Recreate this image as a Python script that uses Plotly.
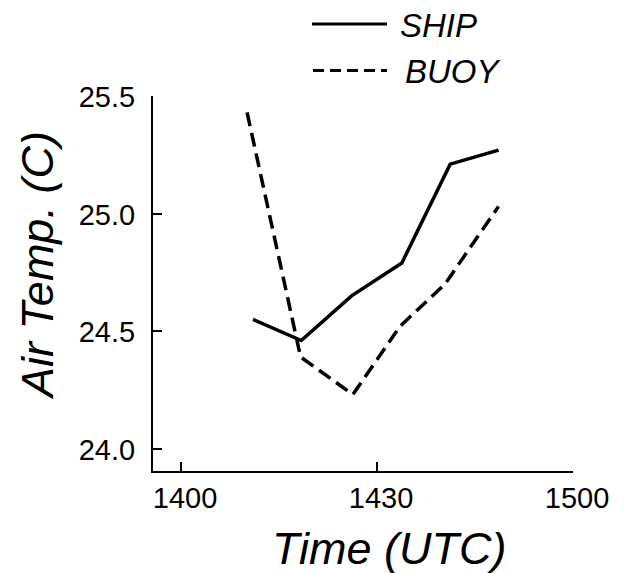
import plotly.graph_objects as go

# Air temperature, minutes after 1400 UTC
ship_minutes = [11.0, 18.4, 26.1, 33.8, 41.2, 48.6]
ship_temp = [24.55, 24.46, 24.65, 24.79, 25.21, 25.27]

buoy_minutes = [10.1, 18.3, 26.3, 33.5, 40.4, 48.6]
buoy_temp = [25.43, 24.39, 24.23, 24.52, 24.70, 25.03]

x_tick_vals = [0, 30, 60]
x_tick_text = ["1400", "1430", "1500"]
y_tick_vals = [24.0, 24.5, 25.0, 25.5]
y_tick_text = ["24.0", "24.5", "25.0", "25.5"]

W, H = 629, 573
L, R, T, B = 153, 56, 96, 102

tick_font = dict(family="Liberation Sans, Arial, sans-serif", size=29, color="black")
title_font = dict(family="Liberation Sans, Arial, sans-serif", size=45, color="black", style="italic")
legend_font = dict(family="Liberation Sans, Arial, sans-serif", size=33, color="black", style="italic")

fig = go.Figure()
fig.add_trace(go.Scatter(x=ship_minutes, y=ship_temp, mode="lines", name="SHIP",
                         line=dict(color="black", width=3.5)))
fig.add_trace(go.Scatter(x=buoy_minutes, y=buoy_temp, mode="lines", name="BUOY",
                         line=dict(color="black", width=3.5, dash="14px,7px")))

axis_common = dict(showline=True, linecolor="black", linewidth=2, showgrid=False,
                   zeroline=False, ticks="inside", ticklen=9, tickwidth=2,
                   tickcolor="black", tickfont=tick_font, mirror=False)

fig.update_xaxes(range=[-4.3, 60], tickvals=x_tick_vals, ticktext=x_tick_text,
                 ticklabelstandoff=0, ticklabelshift=4, **axis_common)
fig.update_yaxes(range=[23.905, 25.5], tickvals=y_tick_vals, ticktext=y_tick_text,
                 ticklabelstandoff=10, ticklabelshift=1, **axis_common)

pw = W - L - R
ph = H - T - B


def px(xp):
    return (xp - L) / pw


def py(yp):
    return (H - B - yp) / ph


# legend key lines and labels
fig.add_shape(type="line", xref="paper", yref="paper",
              x0=px(312), x1=px(387), y0=py(24), y1=py(24),
              line=dict(color="black", width=3))
fig.add_shape(type="line", xref="paper", yref="paper",
              x0=px(313), x1=px(387), y0=py(70.5), y1=py(70.5),
              line=dict(color="black", width=3, dash="11px,6px"))
fig.add_annotation(xref="paper", yref="paper", x=px(398), y=py(26),
                   xanchor="left", yanchor="middle", text="SHIP", showarrow=False,
                   font=legend_font)
fig.add_annotation(xref="paper", yref="paper", x=px(403), y=py(71),
                   xanchor="left", yanchor="middle", text="BUOY", showarrow=False,
                   font=legend_font)

# axis titles
fig.add_annotation(xref="paper", yref="paper", x=px(389), y=py(548),
                   xanchor="center", yanchor="middle", text="Time (UTC)",
                   showarrow=False, font=title_font)
fig.add_annotation(xref="paper", yref="paper", x=px(37), y=py(265),
                   xanchor="center", yanchor="middle", text="Air Temp. (C)",
                   textangle=-90, showarrow=False, font=title_font)

fig.update_layout(width=W, height=H, margin=dict(l=L, r=R, t=T, b=B),
                  paper_bgcolor="white", plot_bgcolor="white", showlegend=False)

fig.write_html("out.html")
